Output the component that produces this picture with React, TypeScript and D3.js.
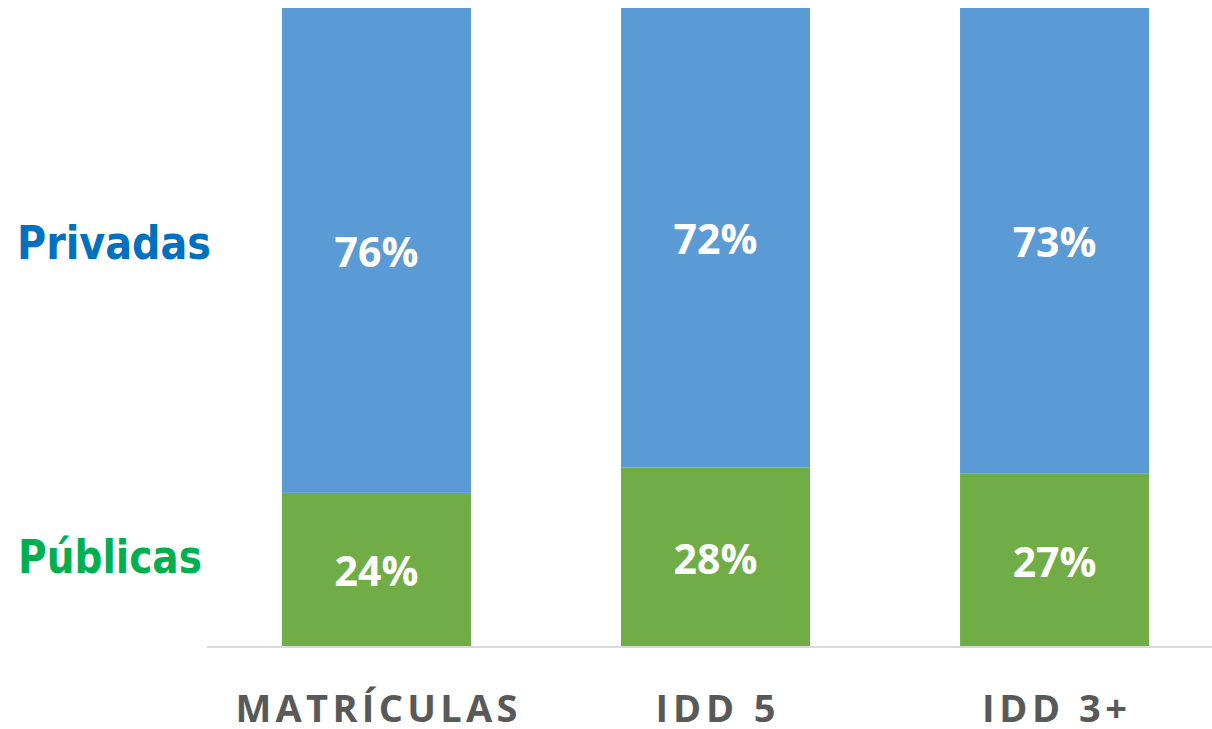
import React from "react";
import * as d3 from "d3";

const categories = ["MATRÍCULAS", "IDD 5", "IDD 3+"];
const publicas = [24, 28, 27];
const privadas = [76, 72, 73];
const seriesNames = ["Privadas", "Públicas"];

const W = 1212;
const H = 729;

export default function App() {
  const x = d3
    .scaleBand<string>()
    .domain(categories)
    .range([207, 1224])
    .paddingInner(0.4425)
    .paddingOuter(0.221);
  const y = d3.scaleLinear().domain([0, 100]).range([646, 8]);

  const blue = "#5B9BD5";
  const green = "#70AD47";
  const labelFont = "'Open Sans', 'Noto Sans', sans-serif";
  const catWidths = [282, 120, 145];

  return (
    <svg
      width={W}
      height={H}
      style={{ position: "absolute", left: 0, top: 0, background: "#fff" }}
    >
      {categories.map((c, i) => {
        const x0 = x(c)!;
        const bw = x.bandwidth();
        const cx = x0 + bw / 2;
        const gTop = y(publicas[i]);
        const bTop = y(publicas[i] + privadas[i]);
        return (
          <g key={c}>
            <rect x={x0} y={gTop} width={bw} height={y(0) - gTop} fill={green} />
            <rect x={x0} y={bTop} width={bw} height={gTop - bTop} fill={blue} />
            <text
              x={cx}
              y={(bTop + gTop) / 2 + 16.5}
              textAnchor="middle"
              fill="#fff"
              fontFamily={labelFont}
              fontWeight={700}
              fontSize={41}
            >
              {privadas[i]}%
            </text>
            <text
              x={cx}
              y={(gTop + y(0)) / 2 + 17}
              textAnchor="middle"
              fill="#fff"
              fontFamily={labelFont}
              fontWeight={700}
              fontSize={41}
            >
              {publicas[i]}%
            </text>
            <text
              x={cx}
              y={722}
              textAnchor="middle"
              fill="#595959"
              fontFamily={labelFont}
              fontWeight={700}
              fontSize={38}
              textLength={catWidths[i]}
              lengthAdjust="spacing"
            >
              {c}
            </text>
          </g>
        );
      })}
      <line x1={207} x2={1212} y1={647} y2={647} stroke="#D9D9D9" strokeWidth={2} />
      <text
        x={17}
        y={259}
        fill="#0070C0"
        fontFamily="'DejaVu Sans', sans-serif"
        fontWeight={700}
        fontSize={46}
        textLength={194}
        lengthAdjust="spacingAndGlyphs"
      >
        {seriesNames[0]}
      </text>
      <text
        x={18}
        y={573}
        fill="#00B050"
        fontFamily="'DejaVu Sans', sans-serif"
        fontWeight={700}
        fontSize={46}
        textLength={184}
        lengthAdjust="spacingAndGlyphs"
      >
        {seriesNames[1]}
      </text>
    </svg>
  );
}
